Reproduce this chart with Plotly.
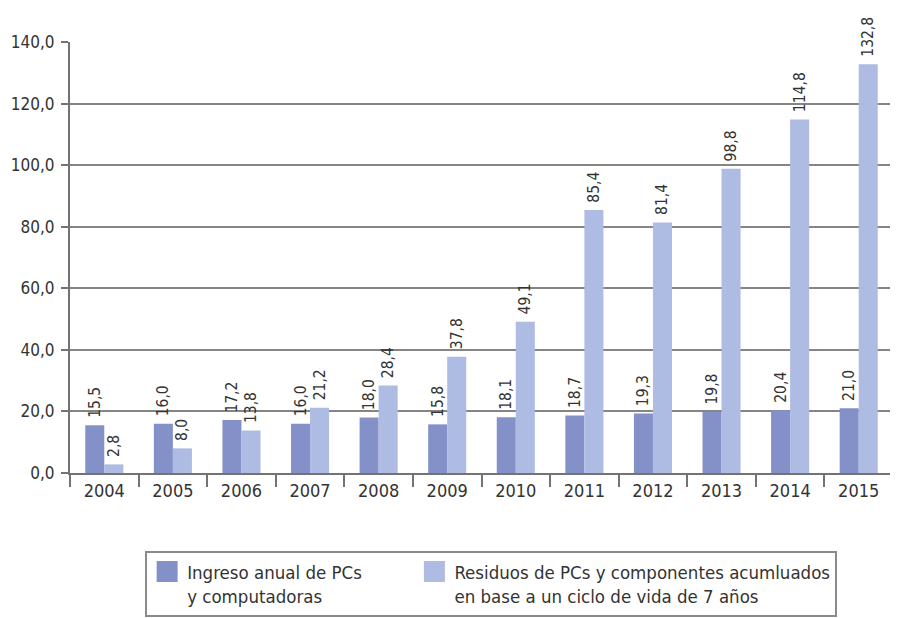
import plotly.graph_objects as go

years = ["2004", "2005", "2006", "2007", "2008", "2009", "2010", "2011", "2012", "2013", "2014", "2015"]
ingreso = [15.5, 16.0, 17.2, 16.0, 18.0, 15.8, 18.1, 18.7, 19.3, 19.8, 20.4, 21.0]
residuos = [2.8, 8.0, 13.8, 21.2, 28.4, 37.8, 49.1, 85.4, 81.4, 98.8, 114.8, 132.8]
y_ticks = [0, 20, 40, 60, 80, 100, 120, 140]

name_a = "Ingreso anual de PCs" + "\u00a0" * 9 + "<br>y computadoras"
name_b = "Residuos de PCs y componentes acumluados<br>en base a un ciclo de vida de 7 años"

COL_A = "#8491C8"
COL_B = "#AEBBE2"
FONT = "DejaVu Sans Condensed, Liberation Sans Narrow, Arial Narrow, sans-serif"
TXT = "#333333"

fig = go.Figure()
fig.add_trace(go.Bar(
    x=years, y=ingreso, name=name_a, showlegend=False,
    marker=dict(color=COL_A, line=dict(width=0)),
    texttemplate="\u00a0%{y:.1f}", textposition="outside", textangle=-90,
    textfont=dict(family=FONT, size=15.5, color=TXT), cliponaxis=False,
))
fig.add_trace(go.Bar(
    x=years, y=residuos, name=name_b, showlegend=False,
    marker=dict(color=COL_B, line=dict(width=0)),
    texttemplate="\u00a0%{y:.1f}", textposition="outside", textangle=-90,
    textfont=dict(family=FONT, size=15.5, color=TXT), cliponaxis=False,
))
# legend-only proxies (bigger square swatches)
for nm, col in [(name_a, COL_A), (name_b, COL_B)]:
    fig.add_trace(go.Scatter(
        x=[None], y=[None], mode="markers", name=nm, showlegend=True,
        marker=dict(symbol="square", size=16, color=col, line=dict(color=col, width=5)),
        hoverinfo="skip",
    ))

fig.update_layout(
    width=890, height=610,
    margin=dict(l=62, r=5, t=34, b=145, autoexpand=False),
    paper_bgcolor="white", plot_bgcolor="white",
    barmode="group", bargap=0.445, bargroupgap=0,
    separators=",.",
    font=dict(family=FONT, size=18, color=TXT),
    showlegend=True,
    legend=dict(
        orientation="h", x=0.0913, y=-0.181, xanchor="left", yanchor="top",
        bordercolor="#8a8a8a", borderwidth=2, bgcolor="white",
        font=dict(family=FONT, size=18.5, color=TXT),
        itemsizing="trace", valign="top",
    ),
    xaxis=dict(
        type="category", showline=True, linecolor="#737373", linewidth=2,
        ticks="outside", tickson="boundaries", ticklen=12, tickwidth=2, tickcolor="#737373",
        showgrid=False, tickfont=dict(family=FONT, size=18, color=TXT),
    ),
    yaxis=dict(
        range=[0, 140], tickvals=y_ticks, tickformat=".1f",
        showline=True, linecolor="#737373", linewidth=2,
        ticks="outside", ticklen=7, tickwidth=2, tickcolor="#737373",
        ticklabelstandoff=3,
        showgrid=True, gridcolor="#858585", gridwidth=2,
        zeroline=False, tickfont=dict(family=FONT, size=17, color=TXT),
    ),
)
fig.update_traces(constraintext="none", selector=dict(type="bar"))

fig.write_html("out.html")
